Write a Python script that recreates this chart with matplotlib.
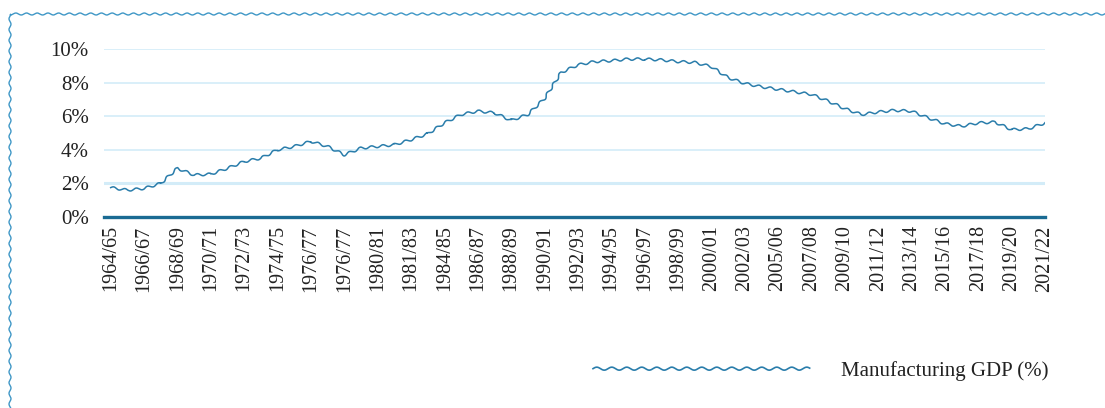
import numpy as np
import matplotlib.pyplot as plt
from matplotlib.patheffects import AbstractPathEffect
from matplotlib.path import Path
from matplotlib.transforms import IdentityTransform
from matplotlib.patches import Rectangle

# data (manufacturing share of GDP, %)
values = [1.75, 1.6, 1.7, 2.0, 2.9, 2.5, 2.55, 2.9, 3.3, 3.5,
          4.0, 4.2, 4.5, 4.2, 3.7, 4.1, 4.2, 4.3, 4.6, 4.95,
          5.6, 6.1, 6.3, 6.2, 5.75, 6.1, 7.05, 8.6, 9.05, 9.25,
          9.3, 9.4, 9.4, 9.35, 9.25, 9.2, 8.95, 8.3, 7.95, 7.75,
          7.6, 7.45, 7.3, 6.9, 6.45, 6.1, 6.25, 6.35, 6.3, 5.9,
          5.55, 5.4, 5.6, 5.65, 5.2, 5.25, 5.6]
tick_labels = ['1964/65', '1966/67', '1968/69', '1970/71', '1972/73', '1974/75',
               '1976/77', '1976/77', '1980/81', '1981/83', '1984/85', '1986/87',
               '1988/89', '1990/91', '1992/93', '1994/95', '1996/97', '1998/99',
               '2000/01', '2002/03', '2005/06', '2007/08', '2009/10', '2011/12',
               '2013/14', '2015/16', '2017/18', '2019/20', '2021/22']
y_ticks = [0, 2, 4, 6, 8, 10]


class Wavy(AbstractPathEffect):
    # draws the path as a small sine wave (pixels)
    def __init__(self, wavelength=11, amplitude=1.1):
        super().__init__()
        self.wl = wavelength
        self.amp = amplitude

    def draw_path(self, renderer, gc, tpath, affine, rgbFace=None):
        pts = affine.transform(tpath.vertices)
        if tpath.codes is not None:
            pts = pts[tpath.codes != Path.STOP]
        out = []
        s0 = 0.0
        for a, b in zip(pts[:-1], pts[1:]):
            d = b - a
            L = np.hypot(*d)
            if L == 0:
                continue
            n = np.array([-d[1], d[0]]) / L
            t = np.linspace(0, 1, max(int(L / 0.5), 2))
            seg = a + np.outer(t, d)
            s = s0 + t * L
            seg = seg + np.outer(self.amp * np.sin(2 * np.pi * s / self.wl), n)
            out.append(seg)
            s0 += L
        if not out:
            return
        v = np.vstack(out)
        renderer.draw_path(gc, Path(v), IdentityTransform(), None)


plt.rcParams['font.family'] = ['Liberation Serif', 'DejaVu Serif']
fig = plt.figure(figsize=(11.05, 4.08), dpi=100)
ax = fig.add_axes([104 / 1105, 1 - 217 / 408, (1045 - 104) / 1105, (217 - 49) / 408])

x = np.arange(len(values))
line, = ax.plot(x, values, color='#2a7dab', lw=1.1, label='Manufacturing GDP (%)',
                path_effects=[Wavy(11.5, 1.2)], zorder=3)

for yv in y_ticks[1:]:
    ax.axhline(yv, color='#d3ecf8', lw=2.2 if yv == 2 else 1.2, zorder=1)
ax.axhline(0, color='#1a6b93', lw=2.4, zorder=2, clip_on=False)

ax.set_xlim(-0.4, len(values) - 1)
ax.set_ylim(0, 10)
ax.set_yticks(y_ticks)
ax.set_yticklabels([f'{v}%' for v in y_ticks], fontsize=15, color='#222222')
ax.set_xticks(x[::2])
ax.set_xticklabels(tick_labels, rotation=90, fontsize=14.5, color='#222222')
ax.tick_params(length=0, pad=6)
ax.tick_params(axis='y', pad=11)
for sp in ax.spines.values():
    sp.set_visible(False)

leg = ax.legend(loc='center left', bbox_to_anchor=(593 / 1105, 1 - 371 / 408),
                bbox_transform=fig.transFigure, frameon=False, fontsize=15,
                handlelength=10.4, handletextpad=1.5, borderpad=0, borderaxespad=0)
for h in leg.get_lines():
    h.set_path_effects([Wavy(15, 1.5)])
    h.set_linewidth(1.2)
for t in leg.get_texts():
    t.set_color('#222222')

# wavy frame around the figure
frame = Rectangle((10 / 1105, -0.2), 1.2, (1 - 14 / 408) + 0.2, transform=fig.transFigure,
                  fill=False, edgecolor='#3f97c6', lw=1.0, path_effects=[Wavy(10.7, 1.0)])
fig.add_artist(frame)

fig.savefig('out.png', dpi=100)
